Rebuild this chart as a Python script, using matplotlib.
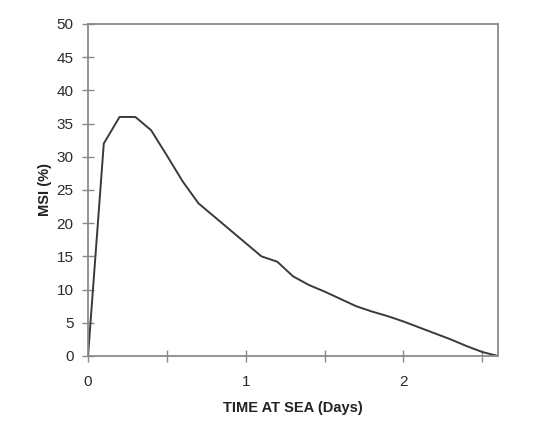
import numpy as np
import matplotlib
matplotlib.use('Agg')
import matplotlib.pyplot as plt

# MSI over time at sea
days = [0.0, 0.1, 0.2, 0.3, 0.4, 0.5, 0.6, 0.7, 0.8, 0.9, 1.0, 1.1, 1.2, 1.3,
        1.4, 1.5, 1.6, 1.7, 1.8, 1.9, 2.0, 2.1, 2.2, 2.3, 2.4, 2.5, 2.6]
msi = [0.0, 32.0, 36.0, 36.0, 34.0, 30.2, 26.3, 23.0, 21.0, 19.0, 17.0, 15.0, 14.2, 12.0,
       10.7, 9.7, 8.6, 7.5, 6.7, 6.0, 5.2, 4.3, 3.4, 2.5, 1.5, 0.6, 0.0]

x_ticks = [0, 0.5, 1, 1.5, 2, 2.5]
x_ticklabels = ['0', '', '1', '', '2', '']
y_ticks = list(range(0, 55, 5))

plt.rcParams['font.family'] = ['Liberation Sans', 'DejaVu Sans']

fig = plt.figure(figsize=(5.42, 4.24), dpi=100)
ax = fig.add_axes([0.1624, 0.1604, 0.7565, 0.783])

ax.plot(days, msi, color='#3a3a3a', lw=1.4)

ax.set_xlim(0, 2.6)
ax.set_ylim(0, 50)
ax.set_xticks(x_ticks)
ax.set_xticklabels(x_ticklabels)
ax.set_yticks(y_ticks)

for s in ax.spines.values():
    s.set_color('#8a8a8a')
    s.set_linewidth(1.3)
ax.tick_params(direction='inout', length=9, width=1.0, color='#8a8a8a',
               labelsize=11, labelcolor='#2a2a2a')
ax.tick_params(axis='x', pad=9)
ax.tick_params(axis='y', pad=6)

ax.set_xlabel('TIME AT SEA (Days)', fontsize=10.5, fontweight='bold',
              color='#222222', labelpad=9)
ax.set_ylabel('MSI (%)', fontsize=10.5, fontweight='bold', color='#222222',
              labelpad=3)

fig.savefig('out.png', dpi=100)
